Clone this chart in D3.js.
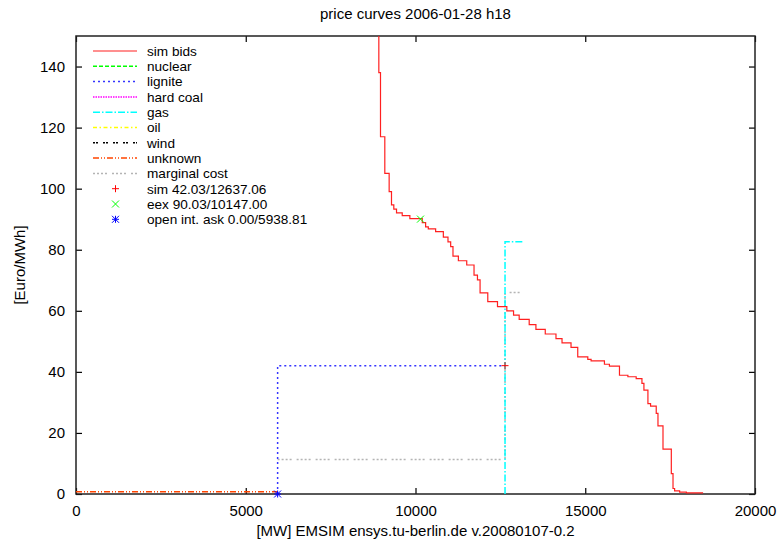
<!DOCTYPE html>
<html><head><meta charset="utf-8">
<script src="https://cdn.jsdelivr.net/npm/d3@7"></script>
<style>
body{margin:0;background:#fff;}
text{font-family:"Liberation Sans",Arial,sans-serif;}
</style></head>
<body><svg id="c" width="779" height="544"></svg>
<script>
const title = "price curves 2006-01-28 h18";
const xLabel = "[MW] EMSIM ensys.tu-berlin.de v.20080107-0.2";
const yLabel = "[Euro/MWh]";
const xTicks = [0, 5000, 10000, 15000, 20000];
const yTicks = [0, 20, 40, 60, 80, 100, 120, 140];

const bidMW = [8920, 8920, 8969, 9096, 9224, 9293, 9361, 9441, 9609, 9834, 10200, 10298, 10377, 10593, 10820, 10957, 11036, 11104, 11263, 11509, 11724, 11825, 11902, 12129, 12415, 12690, 12888, 13054, 13349, 13547, 13822, 14138, 14316, 14581, 14779, 15075, 15172, 15565, 15712, 16008, 16256, 16500, 16670, 16728, 16846, 16924, 17091, 17142, 17290, 17535, 17585, 17632, 17780, 17978, 18471];
const bidPrice = [200, 138.0, 117.0, 105.0, 99.0, 94.7, 93.3, 92.1, 91.2, 90.2, 88.9, 87.5, 86.8, 85.9, 84.1, 82.6, 81.0, 77.9, 76.4, 75.0, 71.7, 70.1, 65.9, 63.0, 61.4, 60.0, 58.6, 57.2, 55.5, 53.9, 52.4, 50.9, 49.5, 48.0, 44.9, 44.1, 43.6, 42.5, 41.9, 38.9, 38.4, 37.8, 36.2, 34.0, 29.6, 28.8, 26.4, 22.3, 14.7, 6.7, 1.8, 1.0, 0.6, 0.35, 0.35];

const ligniteMW = [5938.81, 5938.81, 12637.06];
const lignitePrice = [0, 42.03, 42.03];
const gasMW = [12637.06, 12637.06, 13150];
const gasPrice = [0, 82.6, 82.6];
const unknownMW = [0, 5938.81];
const unknownPrice = [0.7, 0.7];
const mcMW = [5938.81, 12637.06, 12637.06, 13120];
const mcPrice = [11.3, 11.3, 66.0, 66.0];

const seriesNames = ["sim bids", "nuclear", "lignite", "hard coal", "gas", "oil", "wind", "unknown", "marginal cost"];
const seriesColors = ["#ff2020", "#00ff00", "#3535ff", "#ff00ff", "#00ffff", "#ffff00", "#000000", "#ff4500", "#b4b4b4"];
const seriesDash = [null, "4,2", "2,3", "1.5,1", "7,2,1.5,2", "4,2.5,1.5,2.5", "2,1,2,5", "6,2,1,2,1,2", "2,2,2,2,2,2,2,5"];

const pointNames = ["sim 42.03/12637.06", "eex 90.03/10147.00", "open int. ask 0.00/5938.81"];
const pointMW = [12637.06, 10147.00, 5938.81];
const pointPrice = [42.03, 90.03, 0.00];
const pointColors = ["#ff0000", "#00ff00", "#0000ff"];
const pointShapes = ["plus", "cross", "star"];

const L = 76, R = 755, T = 36, B = 494;
const FS = 15, LFS = 13.6;
const svg = d3.select("#c");
const x = d3.scaleLinear().domain([0, 20000]).range([L, R]);
const y = d3.scaleLinear().domain([0, 150]).range([B, T]);

svg.append("defs").append("clipPath").attr("id", "clip")
  .append("rect").attr("x", L).attr("y", T).attr("width", R - L).attr("height", B - T);

// title & labels
svg.append("text").attr("x", (L + R) / 2).attr("y", 19).attr("text-anchor", "middle")
  .attr("font-size", FS).text(title);
svg.append("text").attr("x", (L + R) / 2).attr("y", 536).attr("text-anchor", "middle")
  .attr("font-size", FS).text(xLabel);
svg.append("text").attr("transform", `translate(25,${(T + B) / 2}) rotate(-90)`)
  .attr("text-anchor", "middle").attr("font-size", FS).text(yLabel);

// axes
const tickLen = 6;
const xAxB = d3.axisBottom(x).tickValues(xTicks).tickSizeInner(-tickLen).tickSizeOuter(0).tickPadding(11).tickFormat(d3.format("d"));
const gxb = svg.append("g").attr("transform", `translate(0,${B})`).call(xAxB);
const xAxT = d3.axisTop(x).tickValues(xTicks).tickSizeInner(-tickLen).tickSizeOuter(0).tickFormat("");
const gxt = svg.append("g").attr("transform", `translate(0,${T})`).call(xAxT);
const yAxL = d3.axisLeft(y).tickValues(yTicks).tickSizeInner(-tickLen).tickSizeOuter(0).tickPadding(11).tickFormat(d3.format("d"));
const gyl = svg.append("g").attr("transform", `translate(${L},0)`).call(yAxL);
const yAxR = d3.axisRight(y).tickValues(yTicks).tickSizeInner(-tickLen).tickSizeOuter(0).tickFormat("");
const gyr = svg.append("g").attr("transform", `translate(${R},0)`).call(yAxR);
[gxb, gxt, gyl, gyr].forEach(g => {
  g.select(".domain").remove();
  g.selectAll("line").attr("stroke", "#000").attr("stroke-width", 1.2);
  g.selectAll("text").attr("font-size", FS).attr("font-family", "Liberation Sans, Arial, sans-serif").attr("fill", "#000");
});

// frame
svg.append("rect").attr("x", L).attr("y", T).attr("width", R - L).attr("height", B - T)
  .attr("fill", "none").attr("stroke", "#222").attr("stroke-width", 1.5);

const plot = svg.append("g").attr("clip-path", "url(#clip)");
const stepLine = d3.line().x(d => x(d[0])).y(d => y(d[1])).curve(d3.curveStepAfter);
const polyLine = d3.line().x(d => x(d[0])).y(d => y(d[1]));

function drawSeries(mw, pr, idx, gen) {
  plot.append("path").datum(mw.map((m, i) => [m, pr[i]]))
    .attr("d", gen).attr("fill", "none")
    .attr("stroke", seriesColors[idx]).attr("stroke-width", idx === 0 ? 1.2 : 1.5)
    .attr("stroke-dasharray", seriesDash[idx]);
}
drawSeries(unknownMW, unknownPrice, 7, polyLine);
drawSeries(mcMW, mcPrice, 8, polyLine);
drawSeries(ligniteMW, lignitePrice, 2, polyLine);
drawSeries(gasMW, gasPrice, 4, polyLine);
drawSeries(bidMW, bidPrice, 0, stepLine);

function marker(g, shape, cx, cy, color) {
  const s = 3.5;
  const p = g.append("g").attr("stroke", color).attr("stroke-width", 1);
  if (shape === "plus" || shape === "star") {
    p.append("line").attr("x1", cx - s).attr("x2", cx + s).attr("y1", cy).attr("y2", cy);
    p.append("line").attr("x1", cx).attr("x2", cx).attr("y1", cy - s).attr("y2", cy + s);
  }
  if (shape === "cross" || shape === "star") {
    p.append("line").attr("x1", cx - s).attr("x2", cx + s).attr("y1", cy - s).attr("y2", cy + s);
    p.append("line").attr("x1", cx - s).attr("x2", cx + s).attr("y1", cy + s).attr("y2", cy - s);
  }
}
pointMW.forEach((m, i) => marker(svg, pointShapes[i], x(m), y(pointPrice[i]), pointColors[i]));

// legend
const lg = svg.append("g");
const ly0 = 51, ldy = 15.3;
seriesNames.forEach((n, i) => {
  const yy = ly0 + i * ldy;
  lg.append("line").attr("x1", 93).attr("x2", 137).attr("y1", yy).attr("y2", yy)
    .attr("stroke", seriesColors[i]).attr("stroke-width", i === 0 ? 1.2 : 1.5).attr("stroke-dasharray", seriesDash[i]);
  lg.append("text").attr("x", 147).attr("y", yy + 4.8).attr("font-size", LFS).text(n);
});
pointNames.forEach((n, i) => {
  const yy = ly0 + (seriesNames.length + i) * ldy;
  marker(lg, pointShapes[i], 115.5, yy, pointColors[i]);
  lg.append("text").attr("x", 147).attr("y", yy + 4.8).attr("font-size", LFS).text(n);
});
</script></body></html>
